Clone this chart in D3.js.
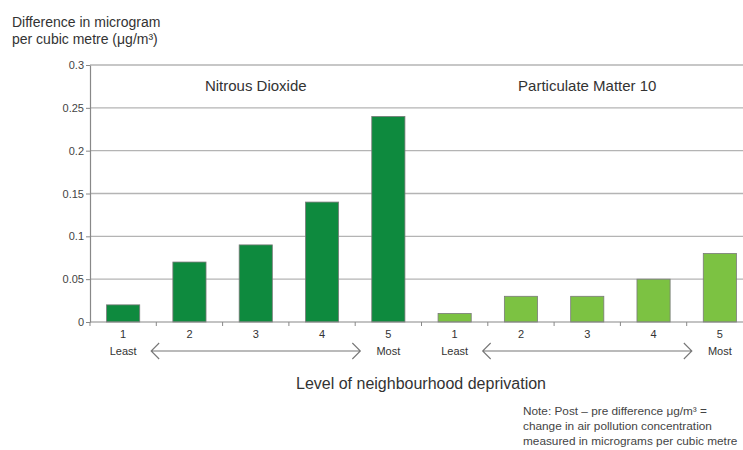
<!DOCTYPE html>
<html>
<head>
<meta charset="utf-8">
<script src="https://cdn.jsdelivr.net/npm/d3@7"></script>
<style>
  body { margin: 0; background: #fff; }
  svg { font-family: "Liberation Sans", Arial, sans-serif; }
</style>
</head>
<body>
<div id="chart"></div>
<script>
// Data
const levels = ["1", "2", "3", "4", "5"];
const levelNotes = ["Least", "", "", "", "Most"];
const no2Values = [0.02, 0.07, 0.09, 0.14, 0.24];
const pm10Values = [0.01, 0.03, 0.03, 0.05, 0.08];
const groupNames = ["Nitrous Dioxide", "Particulate Matter 10"];
const yTicks = [0, 0.05, 0.1, 0.15, 0.2, 0.25, 0.3];

const rows = [];
levels.forEach((l, i) => rows.push({key: "no2-" + l, level: l, note: levelNotes[i], value: no2Values[i], group: 0}));
levels.forEach((l, i) => rows.push({key: "pm-" + l, level: l, note: levelNotes[i], value: pm10Values[i], group: 1}));

const width = 743, height = 450;
const margin = {top: 65, left: 90, bottom: 128};
const plotRight = 753;

const svg = d3.select("#chart").append("svg")
  .attr("width", width)
  .attr("height", height);

// Scales
const x = d3.scaleBand()
  .domain(rows.map(d => d.key))
  .range([margin.left, plotRight])
  .paddingInner(0.5)
  .paddingOuter(0.25);
const y = d3.scaleLinear()
  .domain([0, 0.3])
  .range([height - margin.bottom, margin.top]);

// Gridlines
svg.append("g")
  .selectAll("line")
  .data(yTicks.slice(1))
  .join("line")
  .attr("x1", margin.left)
  .attr("x2", width)
  .attr("y1", d => y(d))
  .attr("y2", d => y(d))
  .attr("stroke", "#b4b4b4")
  .attr("stroke-width", 1.4);

// Y axis
const yAxis = svg.append("g")
  .attr("transform", `translate(${margin.left},0)`)
  .call(d3.axisLeft(y).tickValues(yTicks).tickFormat(d => d === 0 ? "0" : String(+d.toFixed(2))).tickSize(4).tickSizeOuter(0));
yAxis.select(".domain").attr("stroke", "#888").attr("stroke-width", 1.2);
yAxis.selectAll(".tick line").attr("stroke", "#888");
yAxis.selectAll(".tick text")
  .attr("fill", "#444")
  .style("font-size", "11px")
  .attr("x", -6);

// Bars
svg.append("g")
  .selectAll("rect")
  .data(rows)
  .join("rect")
  .attr("x", d => x(d.key))
  .attr("y", d => y(d.value))
  .attr("width", x.bandwidth())
  .attr("height", d => y(0) - y(d.value))
  .attr("fill", d => d.group === 0 ? "#0e8a3e" : "#7cc242")
  .attr("stroke", "#7a7a7a")
  .attr("stroke-width", 0.8);

// X axis
const y0 = y(0);
const step = x.step();
svg.append("line")
  .attr("x1", margin.left).attr("x2", width)
  .attr("y1", y0).attr("y2", y0)
  .attr("stroke", "#888").attr("stroke-width", 1.2);
svg.append("g")
  .selectAll("line")
  .data(d3.range(rows.length + 1))
  .join("line")
  .attr("x1", i => margin.left + i * step)
  .attr("x2", i => margin.left + i * step)
  .attr("y1", y0)
  .attr("y2", y0 + 4)
  .attr("stroke", "#888");

// Category labels
const lab = svg.append("g").attr("fill", "#333").style("font-size", "11px").attr("text-anchor", "middle");
lab.selectAll("text.lvl")
  .data(rows)
  .join("text")
  .attr("class", "lvl")
  .attr("x", d => x(d.key) + x.bandwidth() / 2)
  .attr("y", y0 + 16)
  .text(d => d.level);
lab.selectAll("text.note")
  .data(rows.filter(d => d.note))
  .join("text")
  .attr("class", "note")
  .attr("x", d => x(d.key) + x.bandwidth() / 2)
  .attr("y", y0 + 33)
  .text(d => d.note);

// Arrows between Least and Most
[0, 1].forEach(g => {
  const first = rows.find(d => d.group === g && d.note === "Least");
  const last = rows.find(d => d.group === g && d.note === "Most");
  const x1 = x(first.key) + x.bandwidth() / 2 + 28;
  const x2 = x(last.key) + x.bandwidth() / 2 - 28;
  const ay = y0 + 29;
  svg.append("path")
    .attr("d", `M${x1 + 8},${ay - 8} L${x1},${ay} L${x1 + 8},${ay + 8} M${x1},${ay} L${x2},${ay} M${x2 - 8},${ay - 8} L${x2},${ay} L${x2 - 8},${ay + 8}`)
    .attr("fill", "none")
    .attr("stroke", "#777")
    .attr("stroke-width", 1.1);
});

// Group titles
svg.append("g")
  .selectAll("text")
  .data(groupNames)
  .join("text")
  .attr("x", (d, i) => {
    const keys = rows.filter(r => r.group === i).map(r => r.key);
    return (x(keys[0]) + x(keys[4]) + x.bandwidth()) / 2;
  })
  .attr("y", 91)
  .attr("text-anchor", "middle")
  .attr("fill", "#333")
  .style("font-size", "15px")
  .text(d => d);

// Axis titles
svg.append("text")
  .attr("x", 12).attr("y", 27)
  .attr("fill", "#333").style("font-size", "14px")
  .text("Difference in microgram");
svg.append("text")
  .attr("x", 12).attr("y", 44)
  .attr("fill", "#333").style("font-size", "14px")
  .text("per cubic metre (μg/m³)");

svg.append("text")
  .attr("x", 421).attr("y", 389)
  .attr("text-anchor", "middle")
  .attr("fill", "#333").style("font-size", "16px")
  .text("Level of neighbourhood deprivation");

// Note
const note = ["Note:  Post – pre difference μg/m³ =", "change in air pollution concentration", "measured in micrograms per cubic metre"];
svg.append("g")
  .selectAll("text")
  .data(note)
  .join("text")
  .attr("x", 523)
  .attr("y", (d, i) => 415 + i * 15)
  .attr("fill", "#444")
  .style("font-size", "11.8px")
  .text(d => d);
</script>
</body>
</html>
